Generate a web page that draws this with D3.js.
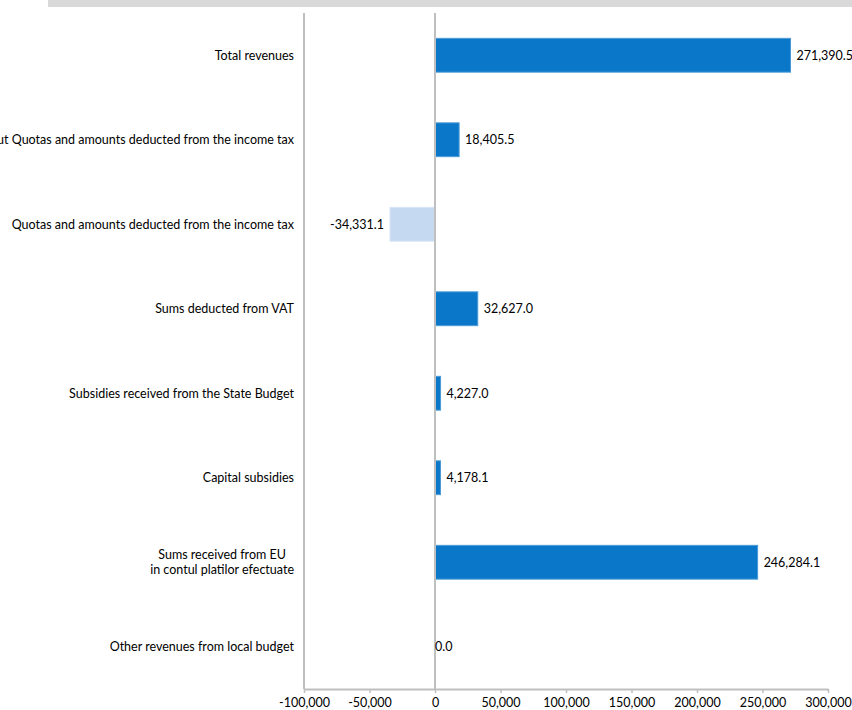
<!DOCTYPE html>
<html><head><meta charset="utf-8">
<script src="https://cdn.jsdelivr.net/npm/d3@7"></script>
<style>body{margin:0;background:#fff}svg{display:block}</style>
</head><body>
<script>
const categories = [
  "Total  revenues",
  "Total revenues without Quotas and amounts deducted from the income tax",
  "Quotas and amounts deducted from the income tax",
  "Sums deducted from VAT",
  "Subsidies received from the State Budget",
  "Capital subsidies",
  "Sums received from EU\nin contul platilor efectuate",
  "Other revenues from local budget"
];
const values = [271390.5, 18405.5, -34331.1, 32627.0, 4227.0, 4178.1, 246284.1, 0.0];
const tickValues = [-100000, -50000, 0, 50000, 100000, 150000, 200000, 250000, 300000];

const W = 852, H = 710;
const FONT = "Lato, 'Open Sans', sans-serif";
const FS = "12.5px";
const svg = d3.select("body").append("svg").attr("width", W).attr("height", H);

svg.append("rect").attr("x", 48).attr("y", 0).attr("width", W - 48).attr("height", 7).attr("fill", "#d9d9d9");

const x = d3.scaleLinear().domain([-100000, 300000]).range([304, 828]);
const y = d3.scaleBand().domain(categories).range([13, 689]).paddingInner(0.6).paddingOuter(0.3);

const locale = d3.formatLocale({decimal: ".", thousands: ",", grouping: [3], currency: ["", ""], minus: "-"});

// bars
svg.selectAll("rect.bar").data(values).join("rect")
  .attr("class", "bar")
  .attr("x", d => x(Math.min(0, d)))
  .attr("width", d => Math.abs(x(d) - x(0)))
  .attr("y", (d, i) => y(categories[i]))
  .attr("height", y.bandwidth())
  .attr("fill", d => d < 0 ? "#c5d9f0" : "#0a77c9")
  .attr("stroke", d => d < 0 ? "#d6e4f5" : "#4a9ad8")
  .attr("stroke-width", 1);

// left axis line and zero line
const axisColor = "#bfbfbf";
svg.append("line").attr("x1", x(-100000)).attr("x2", x(-100000)).attr("y1", 13).attr("y2", 689)
  .attr("stroke", axisColor).attr("stroke-width", 2);
svg.append("line").attr("x1", x(0)).attr("x2", x(0)).attr("y1", 13).attr("y2", 689)
  .attr("stroke", axisColor).attr("stroke-width", 2);

// x axis
const fmt = locale.format(",");
const xAxis = svg.append("g").attr("transform", "translate(0,689)")
  .call(d3.axisBottom(x).tickValues(tickValues).tickFormat(fmt).tickSize(4).tickSizeOuter(0));
xAxis.select(".domain").attr("stroke", axisColor).attr("stroke-width", 2);
xAxis.selectAll(".tick line").attr("stroke", axisColor).attr("stroke-width", 1.5);
xAxis.selectAll("text").attr("fill", "#000").style("font-family", FONT).style("font-size", FS).attr("dy", "0.9em");

// category labels
const catG = svg.append("g");
categories.forEach((c, i) => {
  const lines = c.split("\n");
  const cy = y(c) + y.bandwidth() / 2;
  const lh = 15;
  const t = catG.append("text")
    .attr("font-family", FONT).attr("font-size", FS).attr("fill", "#000");
  if (lines.length === 1) {
    t.attr("text-anchor", "end").attr("x", 294).attr("y", cy).attr("dy", "0.35em").text(c);
  } else {
    t.attr("text-anchor", "middle");
    lines.forEach((l, k) => {
      t.append("tspan").attr("y", cy + (k - (lines.length - 1) / 2) * lh).attr("dy", "0.35em").text(l);
    });
    const maxW = d3.max(t.selectAll("tspan").nodes(), n => n.getComputedTextLength());
    t.selectAll("tspan").attr("x", 294 - maxW / 2);
  }
});

// value labels
const vfmt = locale.format(",.1f");
svg.selectAll("text.val").data(values).join("text")
  .attr("class", "val")
  .attr("x", d => d < 0 ? x(d) - 6 : (d === 0 ? x(0) : x(d) + 6))
  .attr("y", (d, i) => y(categories[i]) + y.bandwidth() / 2)
  .attr("dy", "0.35em")
  .attr("text-anchor", d => d < 0 ? "end" : "start")
  .attr("font-family", FONT).attr("font-size", FS).attr("fill", "#000")
  .text(d => vfmt(d));
</script>
</body></html>
